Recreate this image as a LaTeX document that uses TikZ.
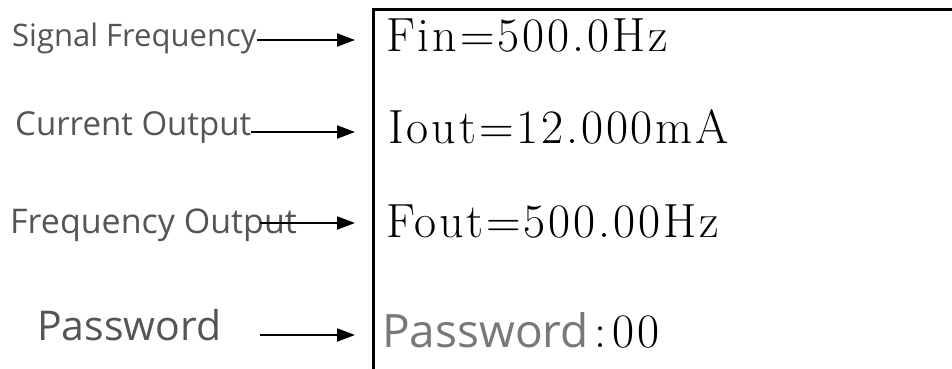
\documentclass[tikz,border=0pt]{standalone}
\usepackage{fontspec}
\setsansfont{Open Sans}
\newfontfamily\lcdfont{Latin Modern Roman}[LetterSpace=6.0]
\usetikzlibrary{arrows.meta}

\definecolor{labelgray}{RGB}{85,85,85}
\definecolor{pwgray}{RGB}{120,120,120}

\begin{document}
\begin{tikzpicture}[x=1pt, y=-1pt]
\tikzstyle{label} = [anchor=base west, inner sep=0pt, text=labelgray, font=\sffamily\fontsize{31}{31}\selectfont]
\tikzstyle{value} = [anchor=base west, inner sep=0pt, font=\fontsize{48}{48}\lcdfont]
\tikzstyle{arrow} = [line width=2pt, -{Stealth[length=18pt, width=13pt, inset=0pt]}]

\useasboundingbox (0,0) rectangle (952,369);

% display frame
\draw [line width=3pt] (373,369) -- (373,10) -- (952,10);

\node (sig) [label] at (12,47) {Signal Frequency};
\node (cur) [label, font=\sffamily\fontsize{33}{33}\selectfont] at (15,135) {Current Output};
\node (fo) [label, font=\sffamily\fontsize{34}{34}\selectfont] at (10,233) {Frequency Output};
\node (pw) [label, font=\sffamily\fontsize{41}{41}\selectfont] at (37,340) {Password};

\node (fin) [value] at (386,52) {Fin=500.0Hz};
\node (iout) [value] at (388,143) {Iout=12.000mA};
\node (fout) [value] at (386,237) {Fout=500.00Hz};
\node (pwval) [value] at (382,347) {{\sffamily\fontsize{46}{46}\selectfont\color{pwgray}Password}\hspace{6pt}:\hspace{6pt}00};

\coordinate (sigend) at (355,40);
\coordinate (curend) at (355,132);
\coordinate (foend) at (355,223);
\coordinate (pwend) at (355,335);
\coordinate (fostart) at (260,223);
\coordinate (pwstart) at (260,335);

\draw [arrow] (sig.base east |- sigend) -- (sigend);
\draw [arrow] (cur.base east |- curend) -- (curend);
\draw [arrow] (fostart) -- (foend);
\draw [arrow] (pwstart) -- (pwend);
\end{tikzpicture}
\end{document}
